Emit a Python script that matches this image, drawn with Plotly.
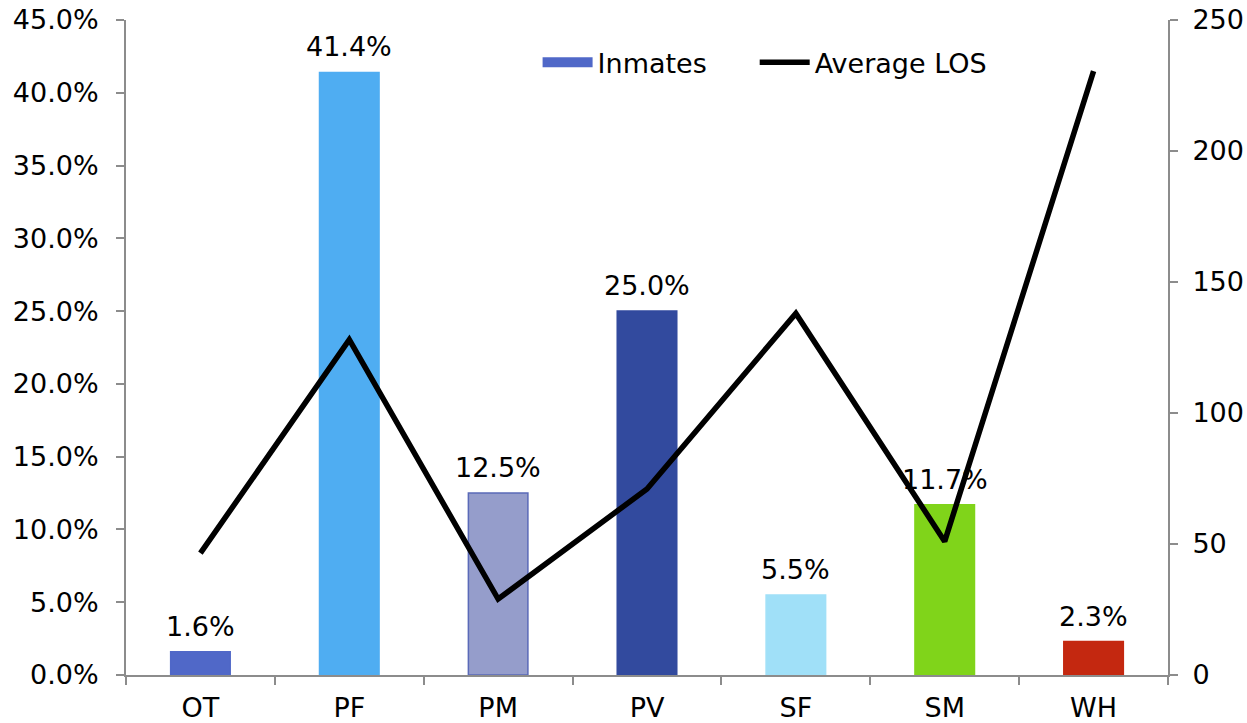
import plotly.graph_objects as go

categorias = ['OT', 'PF', 'PM', 'PV', 'SF', 'SM', 'WH']
inmates_pct = [1.6, 41.4, 12.5, 25.0, 5.5, 11.7, 2.3]
avg_los = [46.5, 128, 29, 71, 138, 51, 230.5]
colores_barra = ['#5068C8', '#4FADF2', '#959DCB', '#324A9E', '#A0E0F8', '#80D41A', '#C42810']
bordes_barra = ['#5068C8', '#4FADF2', '#5A6AB8', '#324A9E', '#A0E0F8', '#80D41A', '#C42810']

FUENTE = 'DejaVu Sans, Verdana, sans-serif'
GRIS = '#8C8C8C'
TAM = 27

y_frac = [v / 100 for v in inmates_pct]

fig = go.Figure()
fig.add_trace(go.Bar(
    x=categorias, y=y_frac, name='Inmates', showlegend=False,
    marker=dict(color=colores_barra, line=dict(color=bordes_barra, width=1.5)),
    width=0.4,
))
# entrada de leyenda con muestra rectangular ancha (como en Excel)
fig.add_trace(go.Scatter(
    x=[None], y=[None], name='Inmates' + '\u00a0' * 5, mode='lines',
    line=dict(color=colores_barra[0], width=15),
))
fig.add_trace(go.Scatter(
    x=categorias, y=avg_los, name='Average LOS', yaxis='y2',
    mode='lines', line=dict(color='black', width=5.5),
))

# etiquetas de valor sobre las barras
for cat, v in zip(categorias, inmates_pct):
    fig.add_annotation(x=cat, y=v / 100, text=f'{v:.1f}%', showarrow=False,
                       yanchor='bottom', yshift=8,
                       font=dict(size=TAM, color='black'))

ejes = dict(showline=True, linecolor=GRIS, linewidth=2, ticks='outside', ticklen=8,
            tickcolor=GRIS, tickwidth=2, showgrid=False, zeroline=False,
            automargin=False, ticklabeloverflow='allow')

fig.update_layout(
    width=1247, height=723,
    margin=dict(l=126, r=79, t=20, b=48),
    plot_bgcolor='white', paper_bgcolor='white',
    font=dict(family=FUENTE, size=TAM, color='black'),
    showlegend=True,
    legend=dict(orientation='h', x=0.395, y=0.935, xanchor='left', yanchor='middle',
                font=dict(size=TAM), bgcolor='rgba(0,0,0,0)', itemwidth=50,
                tracegroupgap=0),
    xaxis=dict(tickson='boundaries', ticklabelstandoff=8, **ejes),
    yaxis=dict(range=[0, 0.45], dtick=0.05, tickformat='.1%',
               ticklabelstandoff=12, **ejes),
    yaxis2=dict(range=[0, 250], dtick=50, overlaying='y', side='right',
                ticklabelstandoff=9, **ejes),
)

# sin margen del body, la figura ocupa exactamente la ventana
fig.write_html('out.html', config={'displayModeBar': False},
               post_script="document.body.style.margin='0';")
